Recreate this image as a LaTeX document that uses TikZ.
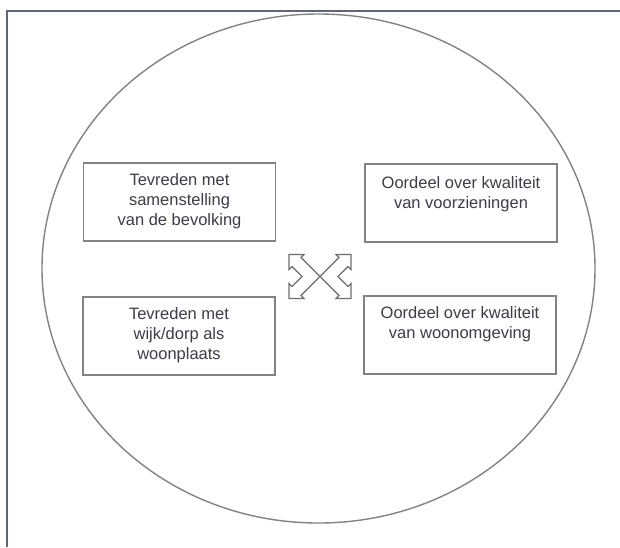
\documentclass[tikz,border=0pt]{standalone}
\usepackage{fontspec}
\setmainfont{Liberation Sans}
\usetikzlibrary{positioning}

\definecolor{framecol}{RGB}{95,102,122}
\definecolor{linecol}{RGB}{130,130,130}
\definecolor{textcol}{RGB}{62,60,72}

\begin{document}
\begin{tikzpicture}[x=1pt, y=-1pt]

%-------------------------------------------------
% Styles
%-------------------------------------------------
\tikzset{
  frame/.style={draw=framecol, line width=2.4pt},
  outer/.style={draw=linecol, line width=1.4pt},
  box/.style={rectangle, draw=linecol, line width=1.4pt, fill=white,
              minimum width=192pt, minimum height=78pt, inner sep=0pt},
  txt/.style={align=center, inner sep=0pt, text=textcol,
              font=\fontsize{16.5}{20}\selectfont},
  cross/.style={draw=linecol!85!black, line width=1.3pt, fill=white, line join=miter}
}

\useasboundingbox (0,0) rectangle (620,547);

%-------------------------------------------------
% Frame and ellipse
%-------------------------------------------------
\draw[frame] (620,11) -- (7,11) -- (7,547);
\draw[outer] (318.5,268.5) ellipse [x radius=276.5, y radius=254.5];

%-------------------------------------------------
% Boxes
%-------------------------------------------------
\node[box] (samen) at (179.5,202) {};
\node[box] (voorz) at (461,203) {};
\node[box] (wijk)  at (179,336) {};
\node[box] (woonomg) at (460,335) {};

\node[txt, below=11pt of samen.north] (samentxt) {Tevreden met\\samenstelling\\van de bevolking};
\node[txt, below=13pt of voorz.north] (voorztxt) {Oordeel over kwaliteit\\van voorzieningen};
\node[txt, below=11pt of wijk.north] (wijktxt) {Tevreden met\\wijk/dorp als\\woonplaats};
\node[txt, below=11pt of woonomg.north] (woonomgtxt) {Oordeel over kwaliteit\\van woonomgeving};

%-------------------------------------------------
% Crossing arrows in the middle
%-------------------------------------------------
\begin{scope}[shift={(320,276.5)}]
\draw[cross] (0,0) -- (-19,19) -- (-16,22) -- (-31,22) -- (-31,7) -- (-28,10)
  -- (-18,0) -- (-28,-10) -- (-31,-7) -- (-31,-22) -- (-16,-22) -- (-19,-19) -- cycle;
\draw[cross] (0,0) -- (19,19) -- (16,22) -- (31,22) -- (31,7) -- (28,10)
  -- (18,0) -- (28,-10) -- (31,-7) -- (31,-22) -- (16,-22) -- (19,-19) -- cycle;
\end{scope}

\end{tikzpicture}
\end{document}
